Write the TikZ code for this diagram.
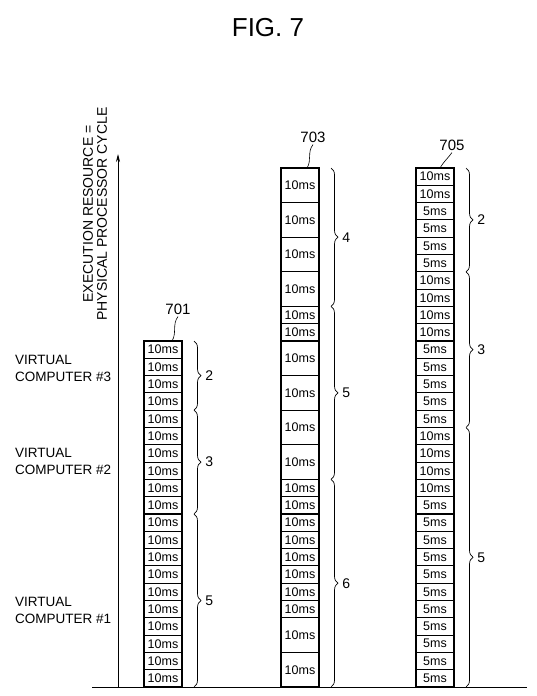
\documentclass[tikz,border=0pt]{standalone}
\usepackage{fontspec}
\setmainfont{Liberation Sans}
\usetikzlibrary{positioning,decorations.pathreplacing,arrows.meta}
\tikzset{
  cell/.style={draw,line width=1.1pt,minimum width=38pt,inner sep=0pt,outer sep=0pt,font=\fontsize{12.5}{14}\selectfont},
  brace/.style={decorate,decoration={brace,amplitude=7pt},line width=0.7pt},
  bnum/.style={midway,right=11pt,inner sep=0pt,font=\fontsize{14}{16}\selectfont},
  lbl/.style={inner sep=0pt,font=\fontsize{13.5}{17}\selectfont},
  ref/.style={inner sep=0pt,font=\fontsize{15}{17}\selectfont},
}
\begin{document}
\begin{tikzpicture}[x=1pt,y=-1pt]
\useasboundingbox (0,0) rectangle (536,696);
\node[lbl,font=\fontsize{26}{30}\selectfont] (fig) at (268,28) {FIG. 7};

\coordinate (o) at (118,687);
\coordinate (ytop) at (118,154);
\coordinate (bl) at (92,687);
\coordinate (br) at (527,687);
\draw[line width=0.8pt] (bl) -- (br);
\draw[line width=0.8pt,-{Stealth[length=8pt,width=4pt]}] (o) -- (ytop);
\node[lbl,rotate=90,align=center,font=\fontsize{14}{14}\selectfont] (ylbl) at (95,214) {EXECUTION RESOURCE =\\PHYSICAL PROCESSOR CYCLE};

\node[lbl,align=left,anchor=west] (vc3) at (15,368) {VIRTUAL\\COMPUTER \#3};
\node[lbl,align=left,anchor=west] (vc2) at (15,461) {VIRTUAL\\COMPUTER \#2};
\node[lbl,align=left,anchor=west] (vc1) at (15,610) {VIRTUAL\\COMPUTER \#1};

% column 701
\coordinate (c1-0) at (163,341);
\foreach \i [remember=\i as \j (initially 0)] in {1,...,20}
  \node[cell,minimum height=17.3pt,below=0pt of c1-\j] (c1-\i) {10ms};

% column 703
\coordinate (c2-0) at (300,168);
\foreach \h [count=\i, remember=\i as \j (initially 0)] in {2,2,2,2,1,1,2,2,2,2,1,1,1,1,1,1,1,1,2,2}
  \node[cell,minimum height=\h*17.3pt,below=0pt of c2-\j] (c2-\i) {10ms};

% column 705
\coordinate (c3-0) at (435,168);
\foreach \t [count=\i, remember=\i as \j (initially 0)] in {10,10,5,5,5,5,10,10,10,10,5,5,5,5,5,10,10,10,10,5,5,5,5,5,5,5,5,5,5,5}
  \node[cell,minimum height=17.3pt,below=0pt of c3-\j] (c3-\i) {\t ms};

\node[ref] (r701) at (178,309) {701};
\node[ref] (r703) at (313,137) {703};
\node[ref] (r705) at (452,145) {705};
\draw[line width=0.6pt] ([yshift=-2pt]r701.south) .. controls +(-6,8) and +(5,-8) .. ([xshift=9pt]c1-1.north);
\draw[line width=0.6pt] ([yshift=-2pt]r703.south) .. controls +(-6,8) and +(5,-8) .. ([xshift=7pt]c2-1.north);
\draw[line width=0.6pt] ([yshift=-2pt]r705.south) .. controls +(-6,8) and +(5,-8) .. ([xshift=5pt]c3-1.north);

\draw[brace] ([xshift=12pt]c1-1.north east) -- ([xshift=12pt]c1-4.south east) node[bnum] (n1a) {2};
\draw[brace] ([xshift=12pt]c1-5.north east) -- ([xshift=12pt]c1-10.south east) node[bnum] (n1b) {3};
\draw[brace] ([xshift=12pt]c1-11.north east) -- ([xshift=12pt]c1-20.south east) node[bnum] (n1c) {5};
\draw[brace] ([xshift=12pt]c2-1.north east) -- ([xshift=12pt]c2-4.south east) node[bnum] (n2a) {4};
\draw[brace] ([xshift=12pt]c2-5.north east) -- ([xshift=12pt]c2-10.south east) node[bnum] (n2b) {5};
\draw[brace] ([xshift=12pt]c2-11.north east) -- ([xshift=12pt]c2-20.south east) node[bnum] (n2c) {6};
\draw[brace] ([xshift=12pt]c3-1.north east) -- ([xshift=12pt]c3-6.south east) node[bnum] (n3a) {2};
\draw[brace] ([xshift=12pt]c3-7.north east) -- ([xshift=12pt]c3-15.south east) node[bnum] (n3b) {3};
\draw[brace] ([xshift=12pt]c3-16.north east) -- ([xshift=12pt]c3-30.south east) node[bnum] (n3c) {5};
\end{tikzpicture}
\end{document}
